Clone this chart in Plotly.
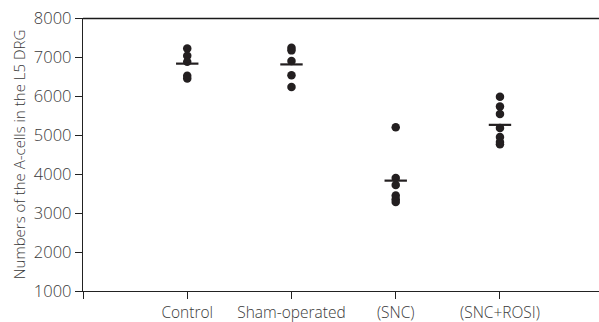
import plotly.graph_objects as go

categories = ["Control", "Sham-operated", "(SNC)", "(SNC+ROSI)"]
control = [7220, 7030, 6880, 6520, 6450]
sham = [7240, 7170, 6900, 6530, 6230]
snc = [5200, 3900, 3720, 3450, 3350, 3280]
snc_rosi = [5980, 5730, 5540, 5180, 4950, 4820, 4760]
means = [6830, 6810, 3830, 5260]
y_ticks = [1000, 2000, 3000, 4000, 5000, 6000, 7000, 8000]
x_range = [0, 4.95]

groups = [control, sham, snc, snc_rosi]
ink = "#231f20"
txt = "#3a3a3a"
font_fam = "Open Sans"

fig = go.Figure()

for i, vals in enumerate(groups):
    fig.add_trace(go.Scatter(
        x=[i + 1] * len(vals), y=vals, mode="markers",
        marker=dict(size=8.5, color=ink, line=dict(width=0)),
        showlegend=False, hoverinfo="y"))

fig.add_trace(go.Scatter(
    x=[1, 2, 3, 4], y=means, mode="markers",
    marker=dict(symbol="line-ew", size=16, color=ink,
                line=dict(width=2.2, color=ink)),
    showlegend=False))

fig.update_layout(
    width=599, height=322,
    margin=dict(l=83, r=0, t=18, b=31),
    paper_bgcolor="white", plot_bgcolor="white",
    font=dict(family=font_fam, size=15, color=txt, weight=300),
    shapes=[dict(type="line", xref="paper", yref="paper",
                 x0=0, x1=1, y0=0.998, y1=0.998, layer="above",
                 line=dict(color="#1a1a1a", width=1.6))],
    xaxis=dict(
        range=x_range, tickmode="array",
        tickvals=[0, 1, 2, 3, 4], ticktext=[""] + categories,
        showline=True, linecolor="#222", linewidth=1.3,
        ticks="outside", ticklen=7, tickcolor="#222", tickwidth=1.3,
        showgrid=False, zeroline=False,
        tickfont=dict(size=15.5, color=txt, weight=300)),
    yaxis=dict(
        range=[1000, 8000], tickmode="array", tickvals=y_ticks,
        ticktext=[str(v) for v in y_ticks],
        showline=True, linecolor="#222", linewidth=1.3,
        ticks="outside", ticklen=7, tickcolor="#222", tickwidth=1.3,
        showgrid=False, zeroline=False,
        tickfont=dict(size=16.5, color=txt, weight=300),
        title=dict(text="Numbers of the A-cells in the L5 DRG",
                   font=dict(size=15, color=txt, weight=300), standoff=4)),
)

fig.write_html("out.html")
